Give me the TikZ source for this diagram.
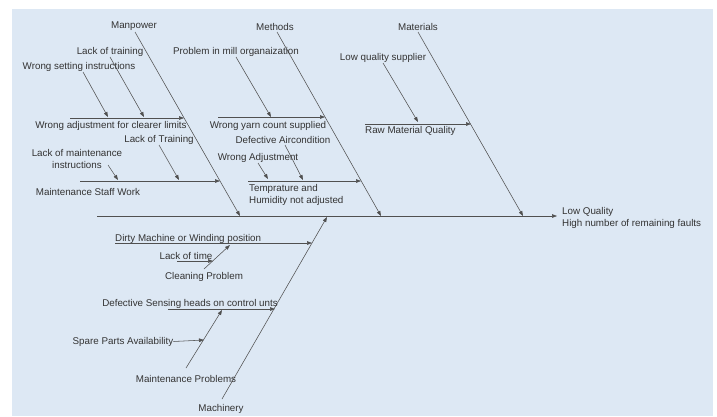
\documentclass[tikz,border=0pt]{standalone}
\usepackage{fontspec}
\setmainfont{Liberation Sans}
\usetikzlibrary{arrows.meta}
\definecolor{bg}{HTML}{DDE8F4}
\definecolor{ln}{HTML}{505050}
\definecolor{tx}{HTML}{333333}
\begin{document}
\begin{tikzpicture}[x=1pt,y=-1pt,
  lbl/.style={text=tx,font=\fontsize{9.8}{12}\selectfont,inner sep=0pt,yshift=-1.5pt},
  bone/.style={draw=ln,line width=0.55pt,-{Triangle[length=5pt,width=3.6pt]}}]
\useasboundingbox (0,0) rectangle (717,416);
\fill[bg] (12,9) rectangle (713,416);

% spine and effect
\coordinate (tail) at (97,216);
\coordinate (head) at (557,216);
\draw[bone] (tail) -- (head);
\node[lbl,anchor=west,align=left] (effect) at (562,216) {Low Quality\\High number of remaining faults};

% main categories
\node[lbl] (manpower) at (134,25) {Manpower};
\node[lbl] (methods) at (275,25) {Methods};
\node[lbl] (materials) at (418,25) {Materials};
\node[lbl] (machinery) at (221,407) {Machinery};

\coordinate (mpS) at (135,32); \coordinate (mpE) at (240,216);
\coordinate (meS) at (277,32); \coordinate (meE) at (381,216);
\coordinate (maS) at (418,32); \coordinate (maE) at (523,216);
\coordinate (mcS) at (222,399); \coordinate (mcE) at (327,217);
\draw[bone] (mpS) -- (mpE);
\draw[bone] (meS) -- (meE);
\draw[bone] (maS) -- (maE);
\draw[bone] (mcS) -- (mcE);

% Manpower
\coordinate (wa0) at (70,118); \coordinate (wa1) at (184,118);
\draw[bone] (wa0) -- (wa1);
\node[lbl] (wadj) at (111,124) {Wrong adjustment for clearer limits};
\node[lbl] (lot) at (110,50) {Lack of training};
\coordinate (lot0) at (110,57); \coordinate (lot1) at (144,117);
\draw[bone] (lot0) -- (lot1);
\node[lbl] (wsi) at (79,65) {Wrong setting instructions};
\coordinate (wsi0) at (83,72); \coordinate (wsi1) at (108,117);
\draw[bone] (wsi0) -- (wsi1);

\coordinate (ms0) at (80,181); \coordinate (ms1) at (220,181);
\draw[bone] (ms0) -- (ms1);
\node[lbl] (msw) at (88,190) {Maintenance Staff Work};
\node[lbl] (lotr) at (159,138) {Lack of Training};
\coordinate (lotr0) at (159,145); \coordinate (lotr1) at (179,180);
\draw[bone] (lotr0) -- (lotr1);
\node[lbl,align=center] (lmi) at (77,157.5) {Lack of maintenance\\instructions};
\coordinate (lmi0) at (108,165); \coordinate (lmi1) at (118,180);
\draw[bone] (lmi0) -- (lmi1);

% Methods
\coordinate (wy0) at (218,117); \coordinate (wy1) at (325,117);
\draw[bone] (wy0) -- (wy1);
\node[lbl] (wyc) at (268,124) {Wrong yarn count supplied};
\node[lbl] (pmo) at (236,50) {Problem in mill organaization};
\coordinate (pmo0) at (236,57); \coordinate (pmo1) at (271,117);
\draw[bone] (pmo0) -- (pmo1);

\coordinate (th0) at (248,181); \coordinate (th1) at (361,181);
\draw[bone] (th0) -- (th1);
\node[lbl,anchor=west,align=left] (temp) at (249,193) {Temprature and\\Humidity not adjusted};
\node[lbl] (dac) at (283,138) {Defective Aircondition};
\coordinate (dac0) at (285,145); \coordinate (dac1) at (303,180);
\draw[bone] (dac0) -- (dac1);
\node[lbl] (wadj2) at (258,156) {Wrong Adjustment};
\coordinate (wad0) at (258,163); \coordinate (wad1) at (268,179);
\draw[bone] (wad0) -- (wad1);

% Materials
\coordinate (rm0) at (365,124); \coordinate (rm1) at (471,124);
\draw[bone] (rm0) -- (rm1);
\node[lbl,anchor=west] (rmq) at (365,129.5) {Raw Material Quality};
\node[lbl] (lqs) at (383,56) {Low quality supplier};
\coordinate (lqs0) at (383,63); \coordinate (lqs1) at (418,122);
\draw[bone] (lqs0) -- (lqs1);

% Machinery
\coordinate (dm0) at (115,243); \coordinate (dm1) at (312,243);
\draw[bone] (dm0) -- (dm1);
\node[lbl,anchor=west] (dmw) at (115,237) {Dirty Machine or Winding position};
\node[lbl] (cp) at (204,275) {Cleaning Problem};
\coordinate (cp0) at (204,269); \coordinate (cp1) at (230,245);
\draw[bone] (cp0) -- (cp1);
\node[lbl] (ltime) at (186,254) {Lack of time};
\coordinate (lt0) at (177,261); \coordinate (lt1) at (213,261);
\draw[bone] (lt0) -- (lt1);

\coordinate (ds0) at (168,309); \coordinate (ds1) at (275,309);
\draw[bone] (ds0) -- (ds1);
\node[lbl] (dsh) at (190,302) {Defective Sensing heads on control unts};
\node[lbl] (mp) at (186,377) {Maintenance Problems};
\coordinate (mp0) at (186,368); \coordinate (mp1) at (222,310);
\draw[bone] (mp0) -- (mp1);
\node[lbl] (spa) at (123,340) {Spare Parts Availability};
\coordinate (sp1) at (204,340);
\draw[bone] (spa.east) -- (sp1);
\end{tikzpicture}
\end{document}
